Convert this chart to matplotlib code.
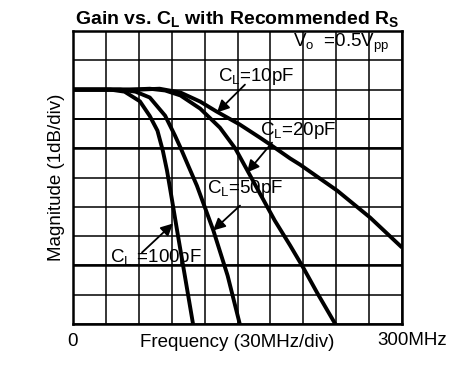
import numpy as np
import matplotlib
matplotlib.use("Agg")
import matplotlib.pyplot as plt

plt.rcParams['font.family'] = ['Liberation Sans', 'DejaVu Sans']
plt.rcParams['mathtext.fontset'] = 'custom'
plt.rcParams['mathtext.rm'] = 'Liberation Sans'
plt.rcParams['mathtext.it'] = 'Liberation Sans:italic'
plt.rcParams['mathtext.bf'] = 'Liberation Sans:bold'

# frequency (MHz) and magnitude (dB), one set per load
f_10pf = [0, 61, 79, 98, 116, 131, 152, 170.5, 180, 198, 207, 241, 271, 300]
db_10pf = [0, 0, 0.03, -0.1, -0.41, -0.75, -1.19, -1.64, -1.88, -2.35, -2.56, -3.45, -4.37, -5.39]

f_20pf = [0, 52, 70, 84, 98, 116, 134, 148, 159, 170.5, 184, 198, 210, 223, 239, 241]
db_20pf = [0, 0, 0.03, -0.03, -0.2, -0.65, -1.3, -2.01, -2.76, -3.55, -4.47, -5.32, -6.08, -6.96, -7.99, -8.1]

f_50pf = [0, 43, 57, 70, 84, 93, 98, 105, 113, 128, 141, 152, 153]
db_50pf = [0, 0, -0.07, -0.27, -0.89, -1.57, -1.98, -2.59, -3.28, -4.81, -6.35, -7.99, -8.1]

f_100pf = [0, 34, 47, 61, 70, 77, 82, 85.7, 90.3, 95.7, 102.1, 109.4, 110]
db_100pf = [0, 0, -0.07, -0.4, -0.9, -1.4, -2.1, -2.76, -3.77, -4.98, -6.38, -7.99, -8.1]

fig = plt.figure(figsize=(4.65, 3.68), dpi=100)
ax = fig.add_axes([73/465, 44/368, 329/465, 293/368])

ax.set_xlim(0, 300)
ax.set_ylim(-8, 2)
ax.set_xticks(np.arange(0, 301, 30))
ax.set_yticks(np.arange(-8, 3, 1))
ax.tick_params(length=0, labelbottom=False, labelleft=False)
ax.grid(True, color='k', lw=1.1)
for y in (-2, -6):
    ax.axhline(y, color='k', lw=1.8)
ax.axhline(-1, color='k', lw=1.4)
for s in ax.spines.values():
    s.set_linewidth(1.8)

for f, db in [(f_10pf, db_10pf), (f_20pf, db_20pf), (f_50pf, db_50pf), (f_100pf, db_100pf)]:
    ax.plot(f, db, color='k', lw=2.8, solid_capstyle='butt', zorder=3)

lab = dict(fontsize=13.5, va='center', ha='left', zorder=5)
ax.text(132, 0.44, r'$\mathrm{C_L}$=10pF', **lab)
ax.text(170.5, -1.4, r'$\mathrm{C_L}$=20pF', **lab)
ax.text(122, -3.38, r'$\mathrm{C_L}$=50pF', **lab)
ax.text(33.7, -5.73, r'$\mathrm{C_L}$ =100pF', **lab)
ax.text(200.6, 1.57, r'$\mathrm{V_o}$  =0.5$\mathrm{V_{pp}}$', **lab)

arr = dict(arrowstyle='-|>', color='k', lw=1.3, mutation_scale=18, shrinkA=0, shrinkB=0)
ax.annotate('', xy=(131.3, -0.78), xytext=(156.8, 0.17), arrowprops=arr, zorder=6)
ax.annotate('', xy=(158.7, -2.83), xytext=(181.5, -1.81), arrowprops=arr, zorder=6)
ax.annotate('', xy=(127.7, -4.81), xytext=(152.3, -3.96), arrowprops=arr, zorder=6)
ax.annotate('', xy=(91.2, -4.57), xytext=(62.9, -5.56), arrowprops=arr, zorder=6)

ax.set_title(r'Gain vs. $\mathbf{C_L}$ with Recommended $\mathbf{R_S}$',
             fontsize=14, fontweight='bold', pad=5)
ax.text(0, -8.3, '0', fontsize=13.5, ha='center', va='top')
ax.annotate('300MHz', xy=(300, -8), xytext=(7, -6), textcoords='offset points',
            fontsize=13.5, ha='center', va='top', annotation_clip=False)
ax.set_xlabel('Frequency (30MHz/div)', fontsize=13.5, labelpad=7)
ax.set_ylabel('Magnitude (1dB/div)', fontsize=13.5, labelpad=6)

fig.savefig('out.png', dpi=100)
